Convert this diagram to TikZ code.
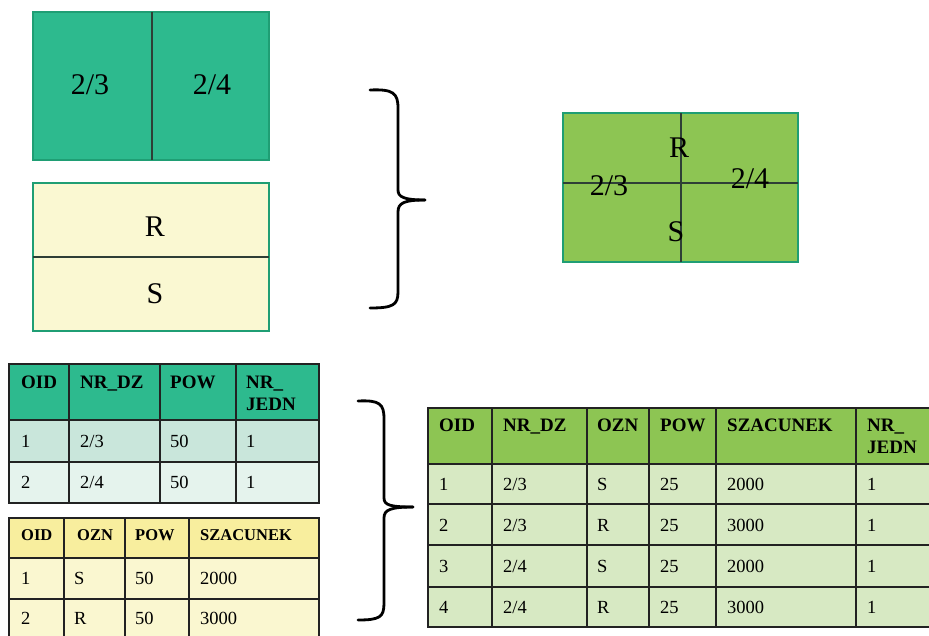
\documentclass[tikz,border=0pt]{standalone}
\usepackage{fontspec}
\setmainfont{Liberation Serif}
\usetikzlibrary{positioning}

\definecolor{parcel}{HTML}{2DBA8E}
\definecolor{landuse}{HTML}{FAF8D2}
\definecolor{result}{HTML}{8DC553}
\definecolor{mapedge}{HTML}{1F9E74}
\definecolor{cutline}{HTML}{2E3F36}
\definecolor{tabline}{HTML}{222222}
\definecolor{rowa}{HTML}{C9E6DB}
\definecolor{rowb}{HTML}{E5F3ED}
\definecolor{heady}{HTML}{F8EE9E}
\definecolor{rowy}{HTML}{FAF7D0}
\definecolor{rowg}{HTML}{D7E9C3}

\begin{document}
\begin{tikzpicture}
	[x=1pt, y=-1pt,
	mapbox/.style={line width=2pt, draw=mapedge},
	cut/.style={draw=cutline, line width=1.5pt},
	big/.style={font=\fontsize{30}{34}\selectfont, inner sep=0pt},
	hd/.style={font=\bfseries\fontsize{19}{22}\selectfont, anchor=north west, inner sep=0pt, align=left},
	hdsmall/.style={hd, font=\bfseries\fontsize{16.5}{20}\selectfont},
	cell/.style={font=\fontsize{18.5}{22}\selectfont, anchor=west, inner sep=0pt},
	grid/.style={draw=tabline, line width=1.3pt},
	brace/.style={line width=2.8pt, line cap=round}]
	\clip (0,0) rectangle (929,636);

	% parcels
	\filldraw[mapbox, fill=parcel] (33,12) rectangle (269,160);
	\draw[cut] (152,12) -- (152,160);
	\node[big] (p23) at (90,85) {2/3};
	\node[big] (p24) at (212,85) {2/4};

	% land use
	\filldraw[mapbox, fill=landuse] (33,183) rectangle (269,331);
	\draw[cut] (33,257) -- (269,257);
	\node[big] (uR) at (155,227) {R};
	\node[big] (uS) at (155,294) {S};

	% overlay
	\filldraw[mapbox, fill=result] (563,113) rectangle (798,262);
	\draw[cut] (563,183) -- (798,183);
	\draw[cut] (681,113) -- (681,262);
	\node[big] (wR) at (679,148) {R};
	\node[big] (wS) at (676,232) {S};
	\node[big] (w23) at (609,186) {2/3};
	\node[big] (w24) at (750,179) {2/4};

	% braces
	\draw[brace] (370,90) .. controls (393,89) and (398,93) .. (398,108) -- (398,190)
		.. controls (398,197) and (404,200) .. (425,200);
	\draw[brace] (425,200) .. controls (404,200) and (398,203) .. (398,212) -- (398,292)
		.. controls (398,305) and (393,308) .. (370,308);
	\draw[brace] (358,401) .. controls (380,400) and (384,404) .. (384,419) -- (384,498)
		.. controls (384,505) and (390,507) .. (413,507);
	\draw[brace] (413,507) .. controls (390,507) and (384,510) .. (384,518) -- (384,603)
		.. controls (384,617) and (380,620) .. (358,620);

	% table of parcels
	\fill[parcel] (9,364) rectangle (319,420);
	\fill[rowa] (9,420) rectangle (319,462);
	\fill[rowb] (9,462) rectangle (319,503);
	\draw[grid] (9,364) rectangle (319,503);
	\foreach \y in {420,462} \draw[grid] (9,\y) -- (319,\y);
	\foreach \x in {69,160,236} \draw[grid] (\x,364) -- (\x,503);
	\foreach \x/\t [count=\i] in {21/OID, 80/NR\_DZ, 170/POW, 246/{NR\_\\JEDN}}
		\node[hd] (ta-h\i) at (\x,376) {\t};
	\foreach \y/\a/\b/\c/\d [count=\r] in {441/1/{2/3}/50/1, 482/2/{2/4}/50/1} {
		\node[cell] (ta-\r a) at (21,\y) {\a};
		\node[cell] (ta-\r b) at (80,\y) {\b};
		\node[cell] (ta-\r c) at (170,\y) {\c};
		\node[cell] (ta-\r d) at (246,\y) {\d};
	}

	% table of land use
	\fill[heady] (9,518) rectangle (319,558);
	\fill[rowy] (9,558) rectangle (319,645);
	\draw[grid] (9,645) -- (9,518) -- (319,518) -- (319,645);
	\foreach \y in {558,599} \draw[grid] (9,\y) -- (319,\y);
	\foreach \x in {64,125,189} \draw[grid] (\x,518) -- (\x,645);
	\foreach \x/\t [count=\i] in {21/OID, 77/OZN, 135/POW, 200/SZACUNEK}
		\node[hdsmall] (tb-h\i) at (\x,529) {\t};
	\foreach \y/\a/\b/\c/\d [count=\r] in {578/1/S/50/2000, 618/2/R/50/3000} {
		\node[cell] (tb-\r a) at (21,\y) {\a};
		\node[cell] (tb-\r b) at (74,\y) {\b};
		\node[cell] (tb-\r c) at (135,\y) {\c};
		\node[cell] (tb-\r d) at (200,\y) {\d};
	}

	% table of the overlay
	\fill[result] (428,408) rectangle (940,464);
	\fill[rowg] (428,464) rectangle (940,627);
	\draw[grid] (940,408) -- (428,408) -- (428,627) -- (940,627);
	\foreach \y in {464,504,545,587} \draw[grid] (428,\y) -- (940,\y);
	\foreach \x in {492,587,649,716,856} \draw[grid] (\x,408) -- (\x,627);
	\foreach \x/\t [count=\i] in {439/OID, 503/NR\_DZ, 597/OZN, 660/POW, 727/SZACUNEK, 867/{NR\_\\JEDN}}
		\node[hd] (tc-h\i) at (\x,419) {\t};
	\foreach \y/\a/\b/\c/\d/\e/\f [count=\r] in {484/1/{2/3}/S/25/2000/1, 525/2/{2/3}/R/25/3000/1,
		566/3/{2/4}/S/25/2000/1, 607/4/{2/4}/R/25/3000/1} {
		\node[cell] (tc-\r a) at (439,\y) {\a};
		\node[cell] (tc-\r b) at (503,\y) {\b};
		\node[cell] (tc-\r c) at (597,\y) {\c};
		\node[cell] (tc-\r d) at (660,\y) {\d};
		\node[cell] (tc-\r e) at (727,\y) {\e};
		\node[cell] (tc-\r f) at (867,\y) {\f};
	}
\end{tikzpicture}
\end{document}
